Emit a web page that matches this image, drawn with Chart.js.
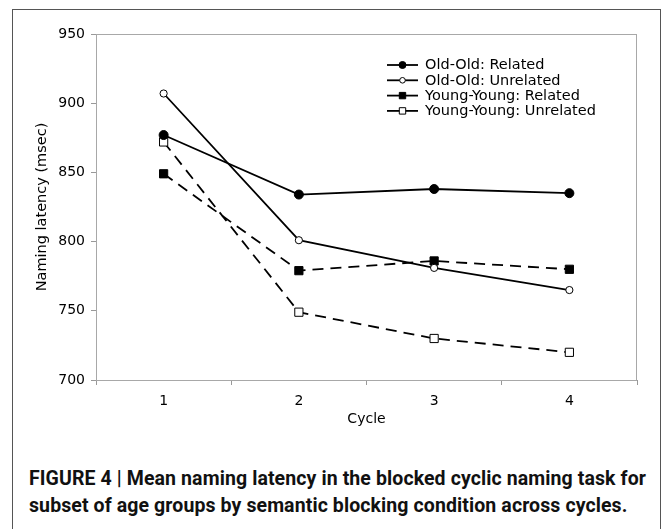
<!DOCTYPE html>
<html>
<head>
<meta charset="utf-8">
<script src="https://cdn.jsdelivr.net/npm/chart.js@4/dist/chart.umd.min.js"></script>
<style>
  html, body { margin: 0; padding: 0; background: #fff; }
  body { width: 671px; height: 529px; position: relative; overflow: hidden; }
  #frame { position: absolute; left: 12px; top: 9px; width: 649px; height: 540px; border: 1.5px solid #555; box-sizing: border-box; }
  #wrap { position: absolute; left: 0; top: 0; width: 671px; height: 440px; }
  #caption { position: absolute; left: 29px; top: 465px; font-family: Roboto, "Liberation Sans", sans-serif; font-weight: 700; font-size: 19.5px; line-height: 27px; color: #111; white-space: nowrap; }
</style>
</head>
<body>
<div id="frame"></div>
<div id="wrap"><canvas id="c" width="671" height="440"></canvas></div>
<div id="caption"><span id="l1">FIGURE 4 | Mean naming latency in the blocked cyclic naming task for</span><br><span id="l2">subset of age groups by semantic blocking condition across cycles.</span></div>
<script>
const cycles = ['1', '2', '3', '4'];
const seriesNames = ['Old-Old: Related', 'Old-Old: Unrelated', 'Young-Young: Related', 'Young-Young: Unrelated'];
const oldOldRelated = [877, 834, 838, 835];
const oldOldUnrelated = [907, 801, 781, 765];
const youngYoungRelated = [849, 779, 786, 780];
const youngYoungUnrelated = [872, 749, 730, 720];
const yMin = 700, yMax = 950, yStep = 50;

const FONT = '"DejaVu Sans", Verdana, sans-serif';

function ds(label, data, style, filled, dashed, radius) {
  return {
    label, data,
    borderColor: '#000', borderWidth: 1.8,
    borderDash: dashed ? [11, 7] : [],
    pointStyle: style, pointRadius: radius, pointHoverRadius: radius,
    pointBackgroundColor: filled ? '#000' : '#fff',
    pointBorderColor: '#000', pointBorderWidth: 1,
    fill: false, tension: 0
  };
}

const frameAndLegend = {
  id: 'frameAndLegend',
  beforeDatasetsDraw(chart) {
    const a = chart.chartArea, ctx = chart.ctx;
    ctx.save();
    ctx.strokeStyle = '#a8a8a8'; ctx.lineWidth = 1;
    ctx.strokeRect(a.left + 0.5, a.top + 0.5, a.right - a.left - 1, a.bottom - a.top);
    ctx.restore();
  },
  afterDraw(chart) {
    const ctx = chart.ctx;
    ctx.save();
    ctx.font = '14.5px ' + FONT;
    ctx.textBaseline = 'middle';
    chart.data.datasets.forEach((d, i) => {
      const y = 65 + i * 15.3;
      ctx.strokeStyle = '#000'; ctx.lineWidth = 1.8; ctx.setLineDash([]);
      ctx.beginPath(); ctx.moveTo(387, y); ctx.lineTo(418, y); ctx.stroke();
      ctx.lineWidth = 1;
      const r = d.pointRadius * 0.78;
      ctx.fillStyle = d.pointBackgroundColor;
      ctx.beginPath();
      if (d.pointStyle === 'circle') { ctx.arc(402.5, y, r, 0, Math.PI * 2); }
      else { const s = r * Math.SQRT1_2; ctx.rect(402.5 - s, y - s, 2 * s, 2 * s); }
      ctx.fill(); ctx.stroke();
      ctx.fillStyle = '#000';
      ctx.fillText(d.label, 425, y + 0.5);
    });
    ctx.restore();
  }
};

new Chart(document.getElementById('c'), {
  type: 'line',
  data: {
    labels: cycles,
    datasets: [
      ds(seriesNames[0], oldOldRelated, 'circle', true, false, 4.5),
      ds(seriesNames[1], oldOldUnrelated, 'circle', false, false, 3.6),
      ds(seriesNames[2], youngYoungRelated, 'rect', true, true, 5.8),
      ds(seriesNames[3], youngYoungUnrelated, 'rect', false, true, 5.8)
    ]
  },
  options: {
    responsive: false, animation: false, devicePixelRatio: 1,
    layout: { padding: { top: 34, right: 34, left: 30, bottom: 12 } },
    plugins: { legend: { display: false }, tooltip: { enabled: false } },
    scales: {
      x: {
        offset: true,
        grid: { offset: true, drawOnChartArea: false, tickLength: 5, color: '#999' },
        border: { color: '#999' },
        ticks: { font: { family: FONT, size: 14 }, color: '#000', padding: 8 },
        title: { display: true, text: 'Cycle', font: { family: FONT, size: 14 }, color: '#000', padding: { top: 0, bottom: 0 } },
        afterFit(s) { s.height = 48; }
      },
      y: {
        min: yMin, max: yMax,
        ticks: { stepSize: yStep, font: { family: FONT, size: 14 }, color: '#000', padding: 6 },
        grid: { drawOnChartArea: false, tickLength: 5, color: '#999' },
        border: { color: '#999' },
        title: { display: true, text: 'Naming latency (msec)', font: { family: FONT, size: 14.5 }, color: '#000', padding: { top: 4, bottom: 4 } },
        afterFit(s) { s.width = 66; }
      }
    }
  },
  plugins: [frameAndLegend]
});

(function () {
  const l1 = document.getElementById('l1');
  const w = l1.getBoundingClientRect().width;
  const n = l1.textContent.length;
  const ls = (617 - w) / n;
  document.getElementById('caption').style.letterSpacing = ls.toFixed(3) + 'px';
})();
</script>
</body>
</html>
